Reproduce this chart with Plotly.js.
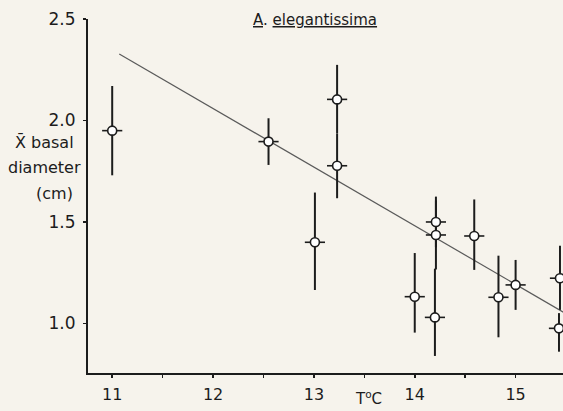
<!DOCTYPE html>
<html>
<head>
<meta charset="utf-8">
<script src="https://cdn.plot.ly/plotly-3.0.1.min.js"></script>
<style>
html,body{margin:0;padding:0;background:#f6f3ec;}
#chart{width:563px;height:411px;}
</style>
</head>
<body>
<div id="chart"></div>
<script>
// Data
var temps   = [11.0, 12.55, 13.23, 13.23, 13.01, 14.0, 14.21, 14.21, 14.2, 14.59, 14.83, 15.0, 15.44, 15.43];
var diam    = [1.95, 1.896, 2.104, 1.777, 1.40, 1.132, 1.50, 1.436, 1.03, 1.431, 1.129, 1.19, 1.223, 0.976];
var errUp   = [0.22, 0.115, 0.17, 0.16, 0.245, 0.215, 0.125, 0.17, 0.24, 0.18, 0.205, 0.123, 0.16, 0.075];
var errDown = [0.22, 0.115, 0.166, 0.16, 0.235, 0.177, 0.125, 0.17, 0.19, 0.167, 0.197, 0.123, 0.156, 0.115];
var errTemp = 0.1;
var fitX = [11.07, 15.5];
var fitY = [2.328, 1.048];
var xTickVals = [11, 12, 13, 14, 15];
var xTickText = ["11", "12", "13", "14", "15"];
var xMinorVals = [11.5, 12.5, 13.5, 14.5, 15.5];
var yTickVals = [1.0, 1.5, 2.0, 2.5];
var yTickText = ["1.0", "1.5", "2.0", "2.5"];

var ink = '#1c1c1c';
var font = 'DejaVu Sans, sans-serif';

var traces = [
  {
    x: fitX, y: fitY, type: 'scatter', mode: 'lines',
    line: {color: '#5a5a5a', width: 1.2}, hoverinfo: 'skip'
  },
  {
    x: temps, y: diam, type: 'scatter', mode: 'markers',
    marker: {symbol: 'circle', size: 9, color: '#ffffff', line: {color: ink, width: 1.6}},
    error_y: {type: 'data', symmetric: false, array: errUp, arrayminus: errDown,
              thickness: 2, width: 0, color: ink},
    error_x: {type: 'constant', value: errTemp, thickness: 1.6, width: 0, color: ink}
  }
];

function px(x){ return (x - 88) / 475; }
function py(y){ return (373 - y) / 354; }

var layout = {
  width: 563, height: 411,
  margin: {l: 88, r: 0, t: 19, b: 38, pad: 0},
  paper_bgcolor: '#f6f3ec', plot_bgcolor: '#f6f3ec',
  showlegend: false,
  font: {family: font, color: ink},
  xaxis: {
    range: [10.76, 15.47], showgrid: false, zeroline: false,
    showline: true, linecolor: ink, linewidth: 2,
    tickmode: 'array', tickvals: xTickVals, ticktext: xTickText,
    ticks: 'outside', ticklen: 3, tickwidth: 1.5, tickcolor: ink,
    minor: {tickmode: 'array', tickvals: xMinorVals, ticks: 'outside', ticklen: 3,
            tickwidth: 1.5, tickcolor: ink, showgrid: false},
    tickfont: {family: font, size: 16, color: ink}, ticklabelstandoff: 3
  },
  yaxis: {
    range: [0.756, 2.5], showgrid: false, zeroline: false,
    showline: true, linecolor: ink, linewidth: 2,
    tickmode: 'array', tickvals: yTickVals, ticktext: yTickText,
    ticks: 'outside', ticklen: 3, tickwidth: 1.5, tickcolor: ink,
    tickfont: {family: font, size: 17, color: ink}, ticklabelstandoff: 4
  },
  annotations: [
    {text: '<u>A</u>. <u>elegantissima</u>', xref: 'paper', yref: 'paper',
     x: px(315), y: py(20), showarrow: false, xanchor: 'center', yanchor: 'middle',
     font: {family: font, size: 15, color: ink}},
    {text: 'X\u0304 basal', xref: 'paper', yref: 'paper',
     x: px(44), y: py(142), showarrow: false, xanchor: 'center', yanchor: 'middle',
     font: {family: font, size: 16, color: ink}},
    {text: 'diameter', xref: 'paper', yref: 'paper',
     x: px(44), y: py(168), showarrow: false, xanchor: 'center', yanchor: 'middle',
     font: {family: font, size: 16, color: ink}},
    {text: '(cm)', xref: 'paper', yref: 'paper',
     x: px(54), y: py(193), showarrow: false, xanchor: 'center', yanchor: 'middle',
     font: {family: font, size: 16, color: ink}},
    {text: 'T<sup>o</sup>C', xref: 'paper', yref: 'paper',
     x: px(368), y: py(410), showarrow: false, xanchor: 'center', yanchor: 'bottom',
     font: {family: font, size: 15, color: ink}}
  ]
};

Plotly.newPlot('chart', traces, layout, {displayModeBar: false, staticPlot: true});
</script>
</body>
</html>
